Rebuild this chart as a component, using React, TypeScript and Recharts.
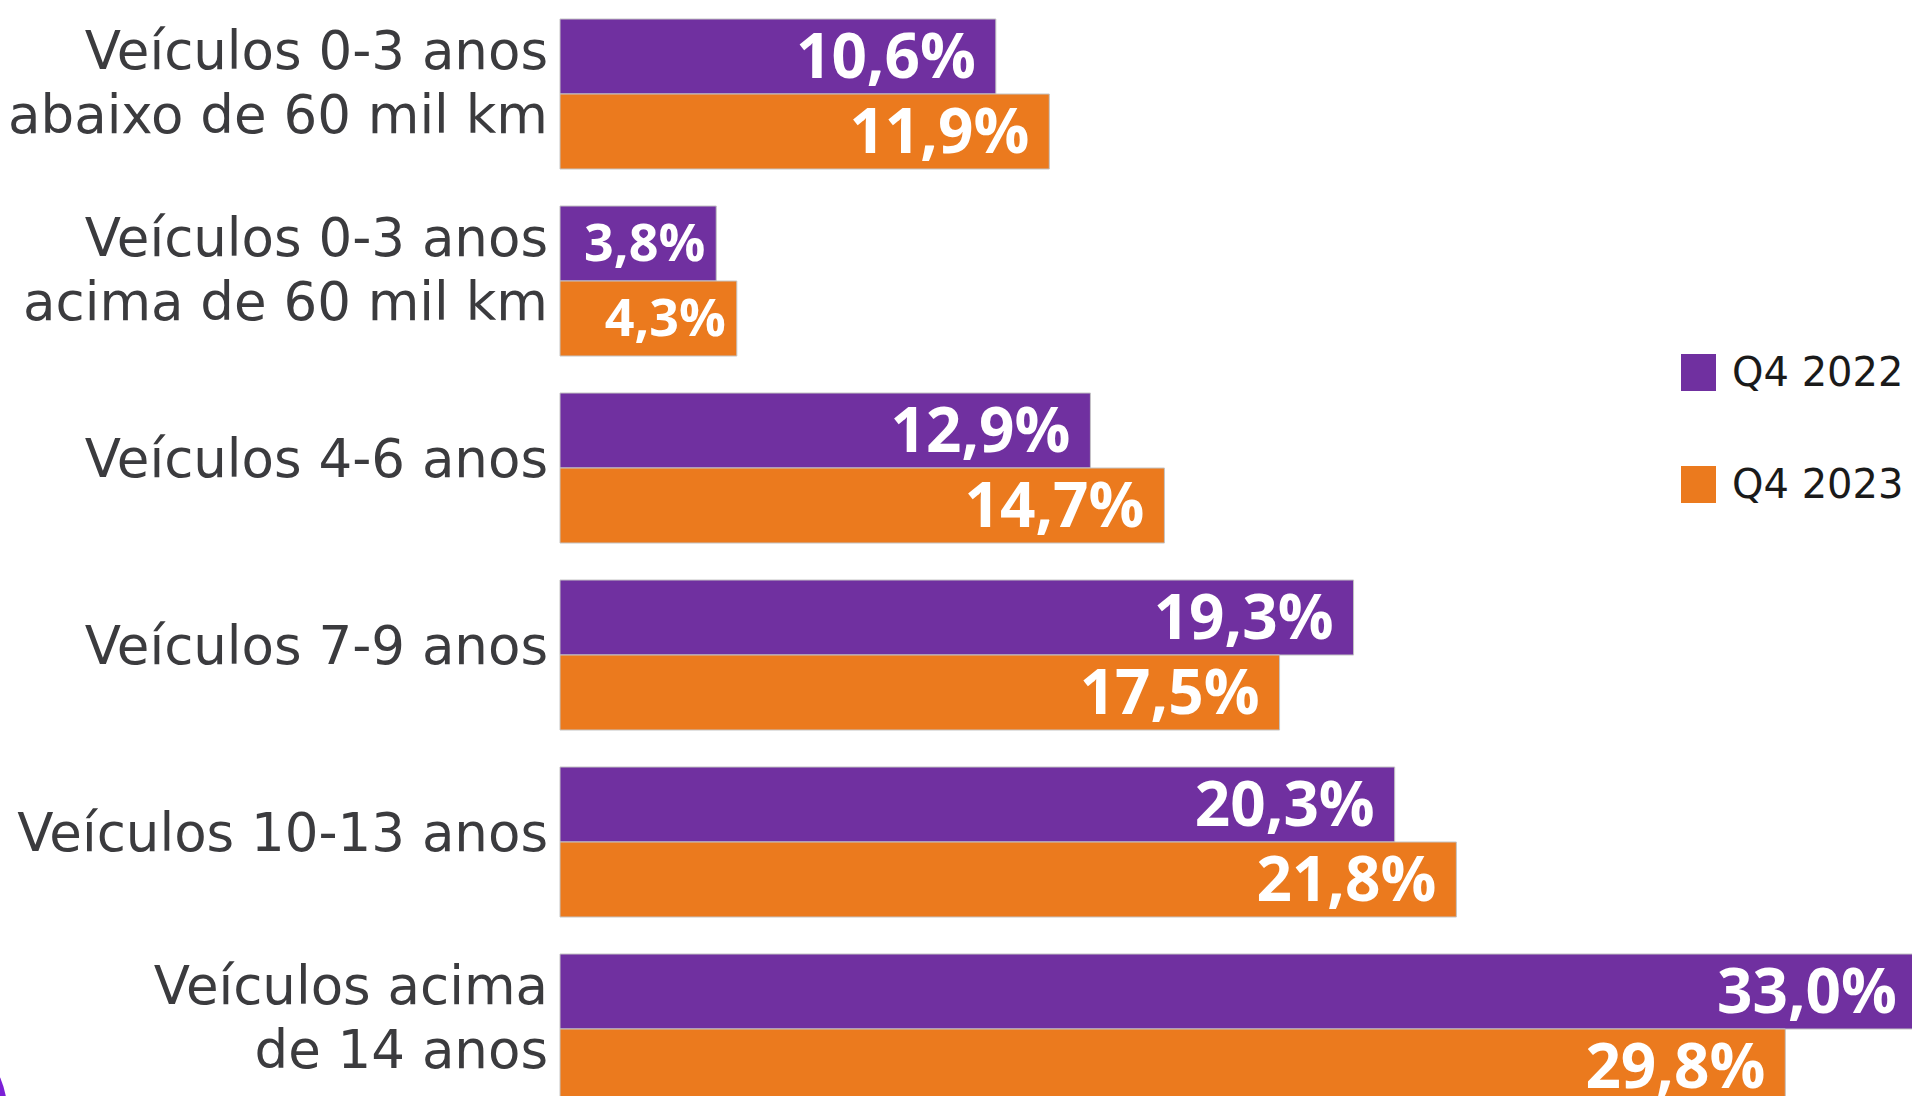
import React from 'react';
import { BarChart, Bar, XAxis, YAxis, LabelList, Legend } from 'recharts';

const categories = [
  'Veículos 0-3 anos|abaixo de 60 mil km',
  'Veículos 0-3 anos|acima de 60 mil km',
  'Veículos 4-6 anos',
  'Veículos 7-9 anos',
  'Veículos 10-13 anos',
  'Veículos acima|de 14 anos',
];
const q4_2022 = [10.6, 3.8, 12.9, 19.3, 20.3, 33.0];
const q4_2023 = [11.9, 4.3, 14.7, 17.5, 21.8, 29.8];
const seriesNames = ['Q4 2022', 'Q4 2023'];
const seriesColors = ['#7030A0', '#EB7A1E'];

const data = categories.map((name, i) => ({
  name,
  a: q4_2022[i],
  b: q4_2023[i],
}));

const fmt = (v: any) => Number(v).toFixed(1).replace('.', ',') + '%';

// category label, "|" splits into two lines
const CategoryTick = (props: any) => {
  const { x, y, payload } = props;
  const lines = String(payload.value).split('|');
  const style = { fontFamily: 'DejaVu Sans', fontSize: 53, fill: '#3b3b3e' };
  if (lines.length === 1) {
    return (
      <text x={x} y={y + 9} textAnchor="end" style={style}>
        {lines[0]}
      </text>
    );
  }
  return (
    <text x={x} y={y} textAnchor="end" style={style}>
      <tspan x={x} y={y - 25}>{lines[0]}</tspan>
      <tspan x={x} y={y + 39}>{lines[1]}</tspan>
    </text>
  );
};

// value inside the bar end; short bars get a smaller label
const ValueLabel = (props: any) => {
  const { x, y, width, height, value } = props;
  const small = Number(value) < 5;
  const size = small ? 52 : 62;
  const pad = small ? 11 : 20;
  return (
    <text
      x={x + width - pad}
      y={y + height / 2 - 3}
      textAnchor="end"
      dominantBaseline="central"
      style={{ fill: '#fff', fontFamily: 'Open Sans', fontWeight: 700, fontSize: size }}
    >
      {fmt(value)}
    </text>
  );
};

const LegendBox = () => (
  <div style={{ fontFamily: 'DejaVu Sans', fontSize: 40, color: '#1a1a1a' }}>
    {seriesNames.map((s, i) => (
      <div
        key={s}
        style={{ display: 'flex', alignItems: 'center', height: 37, marginBottom: i === 0 ? 75 : 0 }}
      >
        <div style={{ width: 35, height: 37, background: seriesColors[i], marginRight: 16 }} />
        <span style={{ lineHeight: '37px' }}>{s}</span>
      </div>
    ))}
  </div>
);

export default function App() {
  return (
    <div
      style={{
        position: 'fixed',
        top: 0,
        left: 0,
        width: 1912,
        height: 1096,
        overflow: 'hidden',
        background: '#fff',
      }}
    >
      <BarChart
        width={1958}
        height={1122}
        data={data}
        layout="vertical"
        margin={{ top: 0, right: 0, left: 0, bottom: 0 }}
        barSize={75}
        barGap={0}
      >
        <XAxis type="number" domain={[0, 34]} hide />
        <YAxis
          type="category"
          dataKey="name"
          width={560}
          axisLine={false}
          tickLine={false}
          tickSize={0}
          tickMargin={12}
          interval={0}
          tick={<CategoryTick />}
        />
        <Legend
          layout="horizontal"
          align="center"
          verticalAlign="middle"
          content={<LegendBox />}
          wrapperStyle={{ position: 'absolute', left: 1681, top: 354, width: 240 }}
        />
        <Bar dataKey="a" name={seriesNames[0]} fill={seriesColors[0]} stroke="#c4c4c4" strokeWidth={1} isAnimationActive={false}>
          <LabelList dataKey="a" content={<ValueLabel />} />
        </Bar>
        <Bar dataKey="b" name={seriesNames[1]} fill={seriesColors[1]} stroke="#c4c4c4" strokeWidth={1} isAnimationActive={false}>
          <LabelList dataKey="b" content={<ValueLabel />} />
        </Bar>
      </BarChart>
      <div
        style={{
          position: 'absolute',
          left: -153,
          top: 1030,
          width: 160,
          height: 160,
          borderRadius: '50%',
          background: '#7B1FD6',
        }}
      />
    </div>
  );
}
